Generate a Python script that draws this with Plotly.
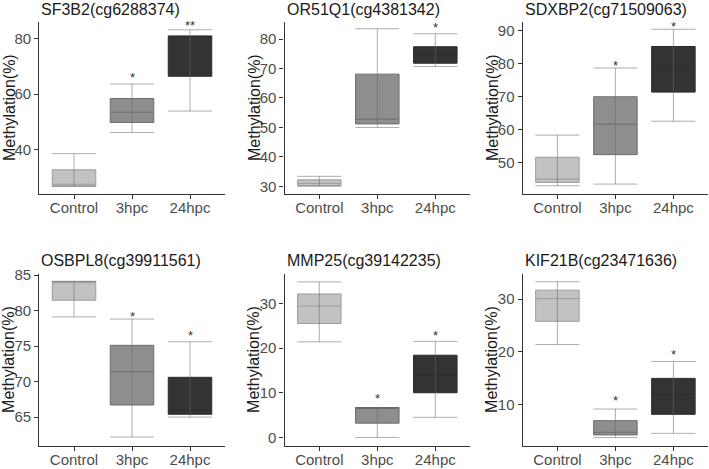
import plotly.graph_objects as go

genes = ["SF3B2(cg6288374)", "OR51Q1(cg4381342)", "SDXBP2(cg71509063)",
         "OSBPL8(cg39911561)", "MMP25(cg39142235)", "KIF21B(cg23471636)"]
groups = ["Control", "3hpc", "24hpc"]

lower = [[26.9, 46.2, 53.9], [30.0, 50.0, 70.7], [43.1, 43.6, 62.6],
         [79.1, 62.2, 65.0], [21.4, 0.0, 4.5], [21.4, 3.8, 4.6]]
q1 = [[26.9, 49.8, 66.4], [30.3, 51.2, 71.8], [44.1, 52.5, 71.4],
      [81.45, 66.7, 65.4], [25.5, 3.2, 10.0], [25.8, 4.3, 8.2]]
median = [[27.6, 53.5, 80.5], [31.0, 52.8, 74.5], [45.1, 61.7, 78.0],
          [83.9, 71.4, 66.0], [29.4, 6.6, 14.0], [30.1, 4.8, 12.0]]
q3 = [[32.8, 58.4, 80.9], [32.2, 68.1, 77.4], [51.7, 70.0, 85.2],
      [84.1, 75.1, 70.6], [32.1, 6.7, 18.4], [31.7, 7.0, 15.0]]
upper = [[38.6, 63.6, 83.1], [33.4, 83.5, 81.8], [58.4, 78.7, 90.4],
         [84.1, 78.8, 75.6], [34.8, 6.7, 21.5], [33.3, 9.2, 18.2]]
sig = [["", "*", "**"], ["", "", "*"], ["", "*", "*"],
       ["", "*", "*"], ["", "*", "*"], ["", "*", "*"]]
sig_y = [[None, 66.9, 85.85], [None, None, 85.0], [None, 80.5, 92.2],
         [None, 79.6, 76.9], [None, 9.3, 23.4], [None, 11.3, 20.0]]
y_ranges = [[24.1, 85.9], [27.4, 85.8], [40.6, 92.6],
            [61.0, 85.1], [-1.8, 36.5], [2.3, 34.7]]
y_dticks = [20, 10, 10, 5, 10, 10]

fills = ["#c2c2c2", "#8e8e8e", "#333333"]
lines = ["#9c9c9c", "#6c6c6c", "#2c2c2c"]

W, H = 709, 469
col_px = [(39.2, 224.8), (284.5, 470.1), (522.6, 708.2)]
row_px = [(22, 194), (274.3, 445.5)]
ytitle_px = [9, 254, 492]
title_py = [10, 260]

fig = go.Figure()
layout = dict(width=W, height=H, margin=dict(l=0, r=0, t=0, b=0, pad=0),
              autosize=False,
              paper_bgcolor="white", plot_bgcolor="white", showlegend=False,
              font=dict(family="Liberation Sans, Arial, sans-serif"))
annotations = []

for i, gene in enumerate(genes):
    r, c = divmod(i, 3)
    xa = "x" if i == 0 else f"x{i+1}"
    ya = "y" if i == 0 else f"y{i+1}"
    for g in range(3):
        fig.add_trace(go.Box(
            x=[groups[g]], q1=[q1[i][g]], median=[median[i][g]], q3=[q3[i][g]],
            lowerfence=[q1[i][g]], upperfence=[q3[i][g]],
            fillcolor=fills[g], line=dict(color=lines[g], width=1),
            whiskerwidth=0, width=0.75, boxpoints=False,
            xaxis=xa, yaxis=ya, hoverinfo="skip"))
    fig.add_trace(go.Scatter(
        x=groups, y=median[i], mode="markers",
        marker=dict(color="rgba(0,0,0,0)", size=1),
        error_y=dict(type="data", symmetric=False,
                     array=[upper[i][g] - median[i][g] for g in range(3)],
                     arrayminus=[median[i][g] - lower[i][g] for g in range(3)],
                     width=22, thickness=1, color="rgba(105,105,105,0.55)"),
        xaxis=xa, yaxis=ya, hoverinfo="skip"))
    x0, x1 = col_px[c]
    y0, y1 = row_px[r]
    axis_common = dict(showline=True, linecolor="#333333", linewidth=1.2,
                       ticks="outside", ticklen=4, tickcolor="#333333", tickwidth=1,
                       showgrid=False, zeroline=False, automargin=False,
                       tickfont=dict(size=15, color="#4d4d4d"))
    layout["xaxis" if i == 0 else f"xaxis{i+1}"] = dict(
        domain=[x0 / W, x1 / W], anchor=ya, type="category",
        categoryorder="array", categoryarray=groups, range=[-0.6, 2.6],
        ticklabelstandoff=-4, **axis_common)
    layout["yaxis" if i == 0 else f"yaxis{i+1}"] = dict(
        domain=[1 - y1 / H, 1 - y0 / H], anchor=xa, range=y_ranges[i],
        dtick=y_dticks[i], **axis_common)
    annotations.append(dict(text=gene, xref="paper", yref="paper",
                            x=x0 / W, y=1 - title_py[r] / H, xanchor="left",
                            yanchor="middle", showarrow=False,
                            font=dict(size=16, color="#1a1a1a")))
    annotations.append(dict(text="Methylation(%)", xref="paper", yref="paper",
                            x=ytitle_px[c] / W, y=1 - (y0 + y1) / 2 / H,
                            xanchor="center", yanchor="middle", textangle=-90,
                            showarrow=False, font=dict(size=16, color="#1a1a1a")))
    for g in range(3):
        if sig[i][g]:
            annotations.append(dict(text=sig[i][g], xref=xa, yref=ya,
                                    x=groups[g], y=sig_y[i][g], yanchor="middle",
                                    yshift=-3, showarrow=False,
                                    font=dict(size=13, color="#333333")))

layout["annotations"] = annotations
fig.update_layout(**layout)
fig.write_html("out.html", config={"displayModeBar": False},
               post_script="document.body.style.margin='0';"
                           "document.body.style.overflow='hidden';")
